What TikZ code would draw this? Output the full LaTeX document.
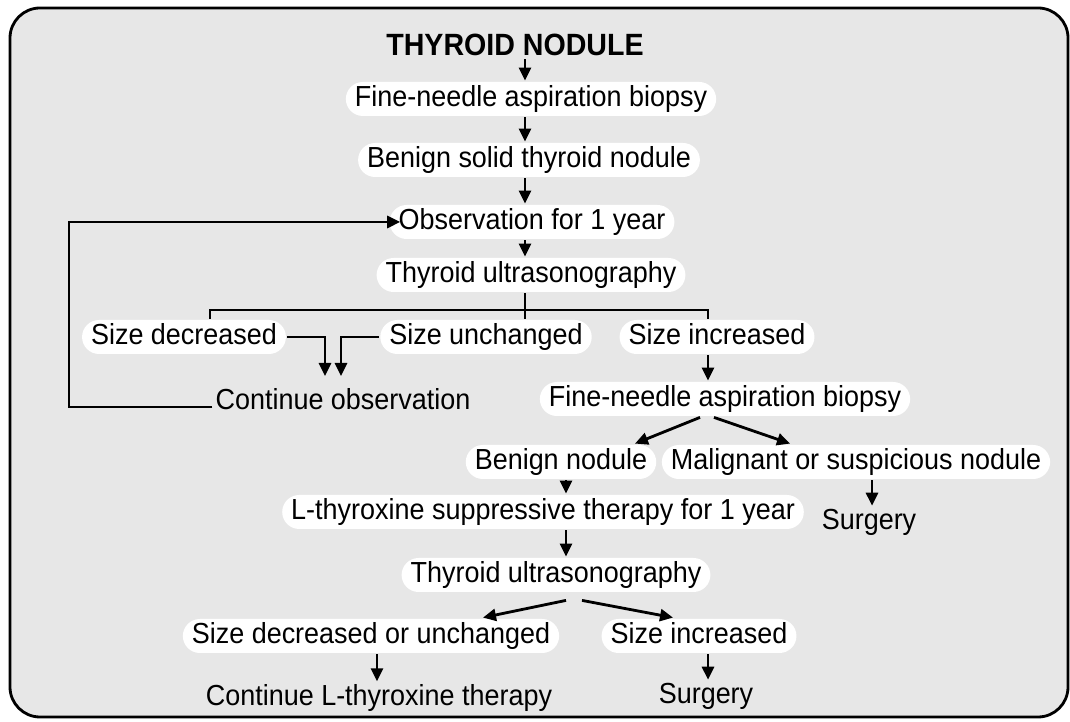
\documentclass[tikz,border=0pt]{standalone}
\usepackage{fontspec}
\setmainfont[FakeStretch=0.93]{Liberation Sans}
\usetikzlibrary{arrows.meta,calc}
\definecolor{panelG}{RGB}{231,231,231}

\begin{document}
\begin{tikzpicture}[font=\fontsize{16.5}{19}\selectfont, >={Triangle[length=2.6mm,width=2.4mm]}, line width=1.6pt,
  p/.style={rectangle, rounded corners=0.34cm, fill=white, minimum height=0.68cm, inner xsep=0.18cm, inner ysep=0pt,
    text height=12pt, text depth=3.5pt},
  t/.style={inner sep=1pt}]
  \useasboundingbox (0,0) rectangle (21.4,14.44);
  \draw[line width=1.6pt, fill=panelG, rounded corners=0.6cm] (0.2,0.1) rectangle (21.36,14.28);
  \node[t, font=\fontsize{17.5}{20}\selectfont\bfseries] (tn) at (10.30,13.54) {THYROID NODULE};
  \node[p] (fna) at (10.62,12.46) {Fine-needle aspiration biopsy};
  \node[p] (bsn) at (10.58,11.24) {Benign solid thyroid nodule};
  \node[p] (obs) at (10.64,10.00) {Observation for 1 year};
  \node[p] (us) at (10.62,8.94) {Thyroid ultrasonography};
  \node[p] (sd) at (3.68,7.70) {Size decreased};
  \node[p] (su) at (9.72,7.70) {Size unchanged};
  \node[p] (si) at (14.34,7.70) {Size increased};
  \node[t] (co) at (6.86,6.46) {Continue observation};
  \node[p] (fnb) at (14.50,6.46) {Fine-needle aspiration biopsy};
  \node[p] (bn) at (11.22,5.20) {Benign nodule};
  \node[p] (mn) at (17.12,5.20) {Malignant or suspicious nodule};
  \node[t] (sg) at (17.38,4.00) {Surgery};
  \node[p] (lt) at (10.86,4.20) {L-thyroxine suppressive therapy for 1 year};
  \node[p] (usb) at (11.12,2.94) {Thyroid ultrasonography};
  \node[p] (sdu) at (7.42,1.72) {Size decreased or unchanged};
  \node[p] (sib) at (13.98,1.72) {Size increased};
  \node[t] (cl) at (7.58,0.48) {Continue L-thyroxine therapy};
  \node[t] (sgb) at (14.12,0.52) {Surgery};
  \coordinate (c) at (10.5,0);
  \coordinate (bl) at (4.2,8.24);
  \coordinate (br) at (14.16,8.24);
  \coordinate (ca) at (6.50,6.92);
  \coordinate (cb) at (6.82,6.92);
  \coordinate (lp) at (1.38,8);
  \coordinate (d) at (11.32,0);
  \coordinate (e) at (17.44,0);
  \coordinate (f) at (7.54,0);
  \draw[->] (tn.south -| c) -- (fna.north -| c);
  \draw[->] (fna.south -| c) -- (bsn.north -| c);
  \draw[->] (bsn.south -| c) -- (obs.north -| c);
  \draw[->] (obs.south -| c) -- (us.north -| c);
  \draw (us.south -| c) -- (su.north -| c);
  \draw (sd.north -| bl) -- (bl) -- (br) -- (si.north -| br);
  \draw[->] (sd.east) -| (ca);
  \draw[->] (su.west) -| (cb);
  \draw[->] ($(co.west)+(0,-0.16)$) -| (lp) |- ($(obs.west)+(0.24,0)$);
  \draw[->] (si.south -| br) -- (fnb.north -| br);
  \draw[->] ($(fnb.south)+(-0.5,0)$) -- ($(bn.north)+(1.48,0)$);
  \draw[->] ($(fnb.south)+(-0.22,0)$) -- ($(mn.north)+(-1.32,0)$);
  \draw[->] (bn.south -| d) -- (lt.north -| d);
  \draw[->] (mn.south -| e) -- (sg.north -| e);
  \draw[->] (lt.south -| d) -- (usb.north -| d);
  \draw[->] ($(usb.south)+(0.2,-0.14)$) -- ($(sdu.north)+(2.24,0)$);
  \draw[->] ($(usb.south)+(0.52,-0.14)$) -- ($(sib.north)+(-0.52,0)$);
  \draw[->] (sdu.south -| f) -- (cl.north -| f);
  \draw[->] (sib.south -| br) -- (sgb.north -| br);
\end{tikzpicture}
\end{document}
